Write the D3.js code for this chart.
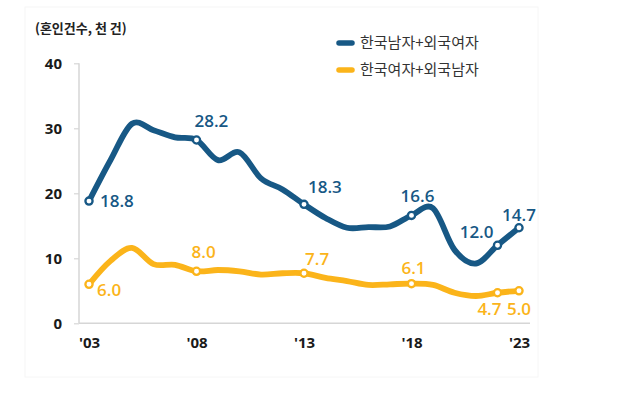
<!DOCTYPE html>
<html><head><meta charset="utf-8">
<script src="https://cdn.jsdelivr.net/npm/d3@7"></script>
<style>
html,body{margin:0;padding:0;background:#fff;}
svg{display:block;}
</style></head>
<body>
<svg id="chart" width="620" height="403"></svg>
<script>
const years = d3.range(2003, 2024);
const maleKorForeignFemale = [18.8,25.1,30.7,29.7,28.6,28.2,25.1,26.3,22.3,20.6,18.3,16.2,14.7,14.8,14.9,16.6,17.7,11.3,9.2,12.0,14.7];
const femaleKorForeignMale = [6.0,9.6,11.6,9.1,9.0,8.0,8.2,8.0,7.5,7.7,7.7,7.0,6.5,5.9,6.0,6.1,5.9,4.7,4.2,4.7,5.0];
const seriesNames = ["한국남자+외국여자","한국여자+외국남자"];
const seriesColors = ["#175885","#fbb41a"];
const yTicks = [0,10,20,30,40];
const xTickYears = [2003,2008,2013,2018,2023];
const xTickLabels = ["'03","'08","'13","'18","'23"];
const labeledYears = [2003,2008,2013,2018,2022,2023];
const unitLabel = "(혼인건수, 천 건)";

const svg = d3.select("#chart");
const x = d3.scaleLinear().domain([2003,2023]).range([89,519]);
const y = d3.scaleLinear().domain([0,40]).range([323.3,63.3]);

// faint frame
svg.append("rect").attr("x",25).attr("y",7).attr("width",513).attr("height",370)
  .attr("fill","none").attr("stroke","#f6f6f6").attr("stroke-width",1);

// title
svg.append("text").attr("x",35).attr("y",33).text(unitLabel)
  .attr("font-family","'Noto Sans CJK KR','Noto Sans',sans-serif").attr("font-weight",700)
  .attr("font-size",13).attr("fill","#222");

// y axis
const yAxis = svg.append("g").attr("transform","translate(79,0)")
  .call(d3.axisLeft(y).tickValues(yTicks).tickSize(5).tickPadding(12));
yAxis.select(".domain").attr("stroke","#d6d6d6").attr("stroke-width",1.5).attr("d","M0,63.3V323.3");
yAxis.selectAll(".tick line").attr("stroke","#d6d6d6").attr("stroke-width",1.2);
yAxis.selectAll(".tick text").attr("font-family","'Open Sans','Noto Sans',sans-serif")
  .attr("font-weight",700).attr("font-size",15).attr("fill","#1a1a1a");

// x axis baseline
const xAxis = svg.append("g").attr("transform","translate(0,323.3)")
  .call(d3.axisBottom(x).tickValues(xTickYears).tickFormat((d,i)=>xTickLabels[i]).tickSize(0).tickPadding(14));
xAxis.select(".domain").attr("stroke","#d6d6d6").attr("stroke-width",1.5).attr("d","M79,0H530");
xAxis.selectAll(".tick text").attr("font-family","'Open Sans','Noto Sans',sans-serif")
  .attr("font-weight",700).attr("font-size",15).attr("fill","#1a1a1a");

const data = [maleKorForeignFemale, femaleKorForeignMale];
const line = d3.line().x((d,i)=>x(years[i])).y(d=>y(d)).curve(d3.curveCardinal.tension(0));

data.forEach((vals,si)=>{
  svg.append("path").attr("d",line(vals)).attr("fill","none")
    .attr("stroke",seriesColors[si]).attr("stroke-width",5.8)
    .attr("stroke-linejoin","round").attr("stroke-linecap","round");
});

// markers
data.forEach((vals,si)=>{
  labeledYears.forEach(yr=>{
    const i = years.indexOf(yr);
    svg.append("circle").attr("cx",x(yr)).attr("cy",y(vals[i])).attr("r",3.6)
      .attr("fill","#fff").attr("stroke",seriesColors[si]).attr("stroke-width",2.3);
  });
});

// value labels: offsets [dx, dy, anchor]
const blueOffsets = {2003:[11,6,"start"],2008:[-2,-13,"start"],2013:[4,-11,"start"],2018:[6,-13,"middle"],2022:[-4,-7,"end"],2023:[0,-7,"middle"]};
const orangeOffsets = {2003:[8,12,"start"],2008:[-5,-13,"start"],2013:[1,-8,"start"],2018:[2,-10,"middle"],2022:[4,22,"end"],2023:[0,24,"middle"]};
const offs = [blueOffsets, orangeOffsets];
data.forEach((vals,si)=>{
  labeledYears.forEach(yr=>{
    const i = years.indexOf(yr);
    const o = offs[si][yr];
    svg.append("text").attr("x",x(yr)+o[0]).attr("y",y(vals[i])+o[1])
      .attr("text-anchor",o[2]).text(d3.format(".1f")(vals[i]))
      .attr("font-family","'Open Sans','Noto Sans',sans-serif").attr("font-weight",600)
      .attr("font-size",17).attr("fill",seriesColors[si]);
  });
});

// legend
seriesNames.forEach((name,si)=>{
  const cy = 43 + si*27;
  svg.append("line").attr("x1",339).attr("x2",352).attr("y1",cy).attr("y2",cy)
    .attr("stroke",seriesColors[si]).attr("stroke-width",5.5).attr("stroke-linecap","round");
  svg.append("text").attr("x",360).attr("y",cy+5).text(name)
    .attr("font-family","'Noto Sans CJK KR',sans-serif").attr("font-size",15).attr("fill","#333");
});
</script>
</body></html>
